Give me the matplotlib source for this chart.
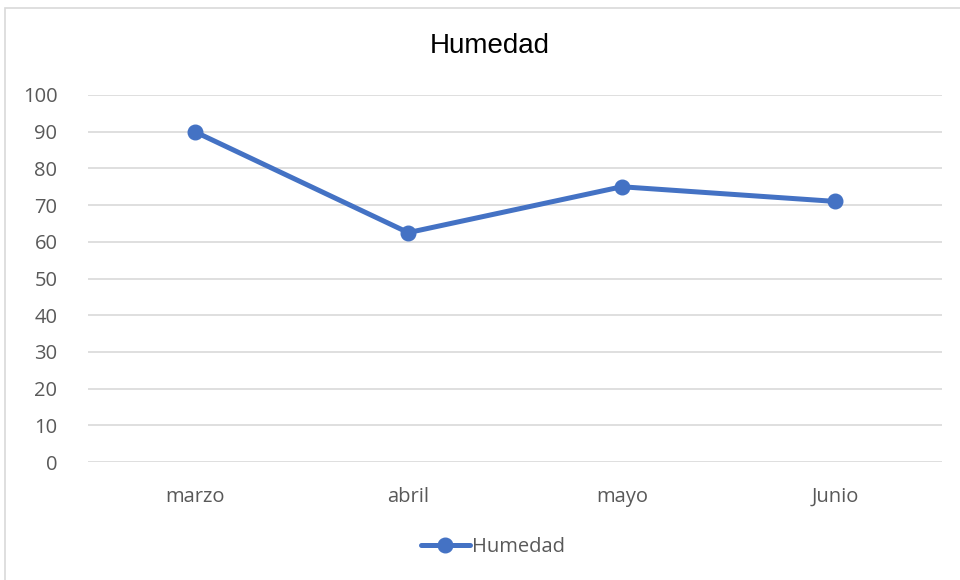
import matplotlib
matplotlib.use("Agg")
import matplotlib.pyplot as plt
from matplotlib.patches import Rectangle

categories = ["marzo", "abril", "mayo", "Junio"]
humedad = [90, 62.5, 75, 71]
yticks = list(range(0, 101, 10))

W, H = 960, 580
fig = plt.figure(figsize=(W/100, H/100), dpi=100)
fig.patch.set_facecolor("white")

# chart border
fig.add_artist(Rectangle((5/W, -0.2), 1.2, 1.2 - 8/H, transform=fig.transFigure,
                         fill=False, edgecolor="#D9D9D9", linewidth=1.2))

ax = fig.add_axes([88/W, 1 - 462/H, (942-88)/W, (462-95)/H])
x = list(range(len(categories)))
ax.plot(x, humedad, color="#4472C4", linewidth=3.6, marker="o", markersize=10.5,
        solid_capstyle="round", label="Humedad", zorder=3)
ax.set_xlim(-0.5, len(categories) - 0.5)
ax.set_ylim(0, 100)
ax.set_yticks(yticks)
ax.set_xticks(x)
ax.set_xticklabels(categories)
for s in ax.spines.values():
    s.set_visible(False)
ax.grid(axis="y", color="#D9D9D9", linewidth=1.2)
ax.set_axisbelow(True)
ax.tick_params(length=0, labelsize=14.5, labelcolor="#595959")
ax.tick_params(axis="x", pad=18)
ax.tick_params(axis="y", pad=22)
for lab in ax.get_xticklabels() + ax.get_yticklabels():
    lab.set_fontfamily("Open Sans")

fig.text(490/W, 1 - 46/H, "Humedad", ha="center", va="center",
         fontsize=20, fontfamily="Liberation Sans", color="black")

leg = fig.legend(loc="center", bbox_to_anchor=(493/W, 1 - 547/H), frameon=False,
                 prop={"family": "Open Sans", "size": 14.5}, handlelength=2.4,
                 handletextpad=0.1)
for t in leg.get_texts():
    t.set_color("#595959")

fig.savefig("out.png", dpi=100, facecolor="white")
